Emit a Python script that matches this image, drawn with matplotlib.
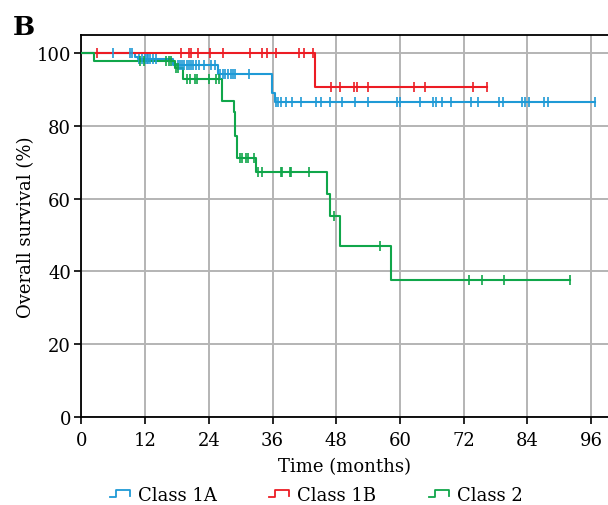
import numpy as np
import matplotlib
matplotlib.use("Agg")
import matplotlib.pyplot as plt
from matplotlib.legend_handler import HandlerBase
from matplotlib.lines import Line2D

# ---- data ----
labels = ["Class 1A", "Class 1B", "Class 2"]
colors = ["#1f9ad6", "#ec1c24", "#10a64a"]

# event times and survival (%) after each event
t1a = [0, 10.1, 10.6, 17.2, 25.8, 35.9, 36.4]
s1a = [100, 98.9, 98.3, 96.7, 94.2, 89.0, 86.6]
c1a = [5.9, 9.2, 9.6, 10.9, 11.4, 12.0, 12.3, 12.6, 12.9, 13.4, 14.0,
       18.2, 18.6, 19.0, 19.4, 19.8, 20.2, 20.6, 21.1, 21.6, 22.2, 23.1, 24.4, 25.1,
       26.1, 26.6, 27.1, 27.6, 28.1, 28.5, 28.9, 31.5,
       36.7, 37.1, 37.5, 38.6, 39.6, 41.4, 44.1, 45.1, 46.9, 49.1, 51.6, 54.0,
       59.5, 60.0, 63.8, 66.3, 66.8, 67.9, 69.7, 73.3, 74.8, 78.6, 79.5,
       83.0, 83.5, 84.3, 87.2, 87.9, 96.7]

t1b = [0, 44.0]
s1b = [100, 90.8]
c1b = [2.9, 18.8, 20.3, 20.7, 22.0, 24.2, 26.6, 31.8, 34.0, 34.9, 36.6,
       41.0, 41.9, 43.7, 47.1, 48.7, 51.3, 51.9, 54.0, 62.7, 64.7, 73.7, 76.4]

t2 = [0, 2.4, 17.6, 19.2, 26.4, 28.7, 28.9, 29.3, 32.8, 46.2, 46.8, 48.7, 58.3]
s2 = [100, 97.9, 95.8, 93.0, 86.9, 83.7, 77.3, 71.3, 67.4, 61.2, 55.1, 47.1, 37.7]
c2 = [11.1, 11.7, 15.9, 16.4, 16.8, 17.9, 18.2,
      19.9, 20.4, 21.4, 21.7, 24.1, 25.3, 25.9,
      29.9, 30.3, 31.0, 31.3, 32.5,
      33.3, 34.1, 37.5, 37.8, 39.2, 39.5, 42.8, 47.5, 56.3,
      73.1, 75.5, 79.6, 92.1]

xticks = [0, 12, 24, 36, 48, 60, 72, 84, 96]
yticks = [0, 20, 40, 60, 80, 100]

plt.rcParams["font.family"] = ["DejaVu Serif"]

fig = plt.figure(figsize=(6.08, 5.06), dpi=100)
ax = fig.add_axes([0.134, 0.174, 0.866, 0.755])


def surv_at(times, surv, t):
    idx = np.searchsorted(np.asarray(times), t, side="right") - 1
    return np.asarray(surv)[idx]


series = [(t1a, s1a, c1a), (t1b, s1b, c1b), (t2, s2, c2)]
for (tt, ss, cc), col, lab in zip(series, colors, labels):
    tend = max(cc[-1], tt[-1])
    xs = list(tt) + [tend]
    ys = list(ss) + [ss[-1]]
    ax.step(xs, ys, where="post", color=col, lw=1.5, label=lab, zorder=3)
    cy = [surv_at(tt, ss, c) for c in cc]
    ax.plot(cc, cy, ls="none", marker="|", ms=7, mew=1.2, color=col, zorder=4)

ax.set_xlim(0, 99.2)
ax.set_ylim(0, 105)
ax.set_xticks(xticks)
ax.set_yticks(yticks)
ax.grid(True, color="#b4b4b4", lw=1.4)
ax.set_axisbelow(True)
ax.spines["right"].set_visible(False)
for sp in ["left", "bottom", "top"]:
    ax.spines[sp].set_linewidth(1.3)
ax.tick_params(direction="out", length=5, width=1.2, labelsize=13)
ax.tick_params(axis="x", pad=5)
ax.tick_params(axis="y", pad=2.5)
ax.set_xlabel("Time (months)", fontsize=13, labelpad=6)
ax.set_ylabel("Overall survival (%)", fontsize=13, labelpad=1)

fig.text(0.021, 1 - 35 / 506, "B", fontsize=19, fontweight="bold",
         ha="left", va="baseline")


class HandlerStep(HandlerBase):
    def create_artists(self, legend, orig_handle, xdescent, ydescent,
                       width, height, fontsize, trans):
        x0, x1 = -xdescent, -xdescent + width
        ylo = -ydescent + height * 0.2
        yhi = -ydescent + height * 0.75
        xm = x0 + width * 0.3
        line = Line2D([x0, xm, xm, x1, x1], [ylo, ylo, yhi, yhi, yhi - height * 0.4],
                      color=orig_handle.get_color(), lw=1.3)
        line.set_transform(trans)
        return [line]


handles = [Line2D([], [], color=c) for c in colors]
fig.legend(handles, labels, handler_map={Line2D: HandlerStep()},
           loc="lower center", bbox_to_anchor=(0.52, -0.03), ncol=3, frameon=False,
           fontsize=13, handlelength=1.1, handletextpad=0.45, columnspacing=2.9)

fig.savefig("out.png", dpi=100)
